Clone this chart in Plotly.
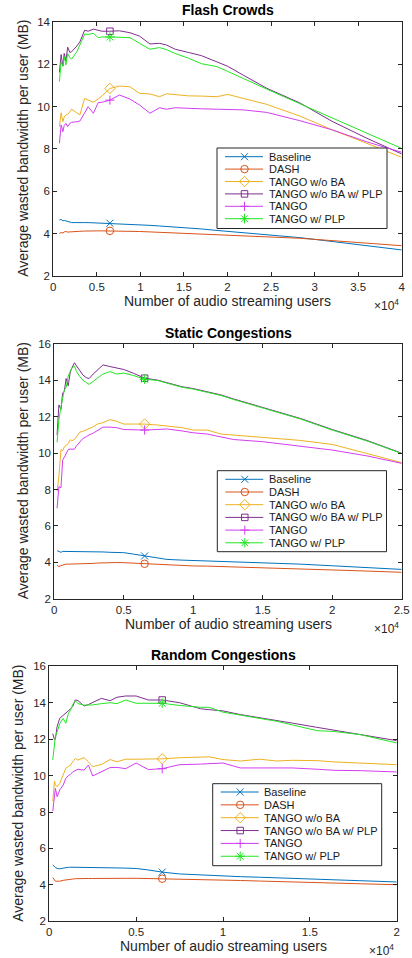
import plotly.graph_objects as go

W, H = 412, 958

# ---------------- DATA ----------------
series_names = ["Baseline", "DASH", "TANGO w/o BA", "TANGO w/o BA w/ PLP", "TANGO", "TANGO w/ PLP"]
marker_users = 6500

# Flash Crowds
flash_users = [700, 900, 1100, 1250, 1450, 1650, 1900, 2100, 2700, 3050, 3600, 4000, 4600, 5150, 5600,
               6500, 7600, 8800, 9900, 11100, 12200, 13000, 14000, 15500, 17000, 18800, 20000, 21800,
               24500, 28300, 32000, 36000, 40000]
flash_baseline = [4.64, 4.67, 4.6, 4.62, 4.6, 4.58, 4.55, 4.52, 4.52, 4.53, 4.52, 4.52, 4.51, 4.5, 4.5,
                  4.49, 4.47, 4.45, 4.42, 4.39, 4.36, 4.34, 4.31, 4.27, 4.22, 4.15, 4.11, 4.05,
                  3.96, 3.81, 3.63, 3.44, 3.23]
flash_dash = [4.01, 4.05, 4.03, 4.08, 4.1, 4.07, 4.08, 4.08, 4.1, 4.11, 4.12, 4.13, 4.13, 4.13, 4.13,
              4.13, 4.12, 4.11, 4.1, 4.08, 4.06, 4.05, 4.03, 4.0, 3.98, 3.95, 3.93, 3.9,
              3.85, 3.78, 3.67, 3.56, 3.43]
flash_wo_ba = [9.05, 9.7, 9.28, 9.5, 9.6, 9.63, 9.75, 9.87, 9.7, 9.6, 10.38, 10.3, 10.2, 10.35, 10.5,
               10.85, 10.96, 10.93, 10.62, 10.59, 10.46, 10.6, 10.55, 10.5, 10.49, 10.46, 10.57, 10.39,
               10.1, 9.55, 8.9, 8.26, 7.6]
flash_wo_ba_plp = [11.6, 12.45, 11.9, 12.5, 12.15, 12.8, 12.55, 12.58, 12.85, 13.05, 13.6, 13.55, 13.65, 13.58, 13.55,
                   13.55, 13.57, 13.48, 13.32, 12.95, 12.98, 12.9, 12.7, 12.55, 12.4, 12.1, 11.9, 11.48,
                   10.86, 10.17, 9.3, 8.5, 7.76]
flash_tango = [8.26, 9.13, 8.81, 9.1, 9.2, 9.05, 9.2, 9.25, 9.28, 9.31, 9.7, 9.99, 9.68, 10.18, 10.2,
               10.3, 10.54, 10.35, 10.07, 9.68, 9.94, 9.87, 9.94, 9.9, 9.89, 9.87, 9.86, 9.84,
               9.72, 9.33, 8.9, 8.33, 7.84]
flash_tango_plp = [11.17, 12.1, 11.9, 12.35, 11.96, 12.5, 12.3, 12.24, 12.58, 12.9, 13.42, 13.4, 13.45, 13.25, 13.28,
                   13.28, 13.27, 13.25, 12.98, 12.7, 12.78, 12.68, 12.5, 12.28, 12.02, 11.88, 11.66, 11.31,
                   10.82, 10.13, 9.46, 8.74, 8.02]

# Static Congestions
static_users = [200, 330, 480, 600, 720, 850, 1000, 1150, 1250, 1450, 1600, 1850, 2050, 2300, 2500, 2800,
                3100, 3500, 4000, 4500, 5000, 5700, 6500, 7400, 8100, 9200, 10000, 11000, 12000, 12900,
                15000, 17700, 20000, 22500, 25000]
static_baseline = [4.64, 4.58, 4.55, 4.6, 4.6, 4.6, 4.6, 4.6, 4.6, 4.6, 4.6, 4.6, 4.6, 4.59, 4.59, 4.58,
                   4.58, 4.57, 4.55, 4.54, 4.53, 4.45, 4.35, 4.22, 4.16, 4.12, 4.1, 4.07, 4.05, 4.03,
                   3.98, 3.9, 3.81, 3.72, 3.61]
static_dash = [3.85, 3.76, 3.82, 3.85, 3.88, 3.9, 3.9, 3.9, 3.9, 3.91, 3.91, 3.91, 3.91, 3.92, 3.92, 3.94,
               3.96, 3.98, 4.0, 3.99, 3.98, 3.95, 3.92, 3.88, 3.86, 3.83, 3.8, 3.79, 3.77, 3.76,
               3.72, 3.66, 3.58, 3.52, 3.45]
static_wo_ba = [7.9, 8.71, 10.2, 10.13, 10.35, 10.45, 10.52, 10.74, 10.68, 10.75, 10.9, 11.16, 11.2, 11.27, 11.35, 11.45,
                11.6, 11.68, 11.84, 11.75, 11.6, 11.6, 11.6, 11.55, 11.48, 11.4, 11.27, 11.27, 11.05, 11.0,
                10.85, 10.7, 10.48, 10.0, 9.48]
static_wo_ba_plp = [11.0, 12.65, 12.4, 13.3, 13.4, 14.1, 13.7, 14.45, 14.66, 14.97, 14.8, 14.5, 14.3, 14.15, 14.1, 14.35,
                    14.55, 14.85, 14.76, 14.68, 14.6, 14.39, 14.12, 14.02, 13.88, 13.65, 13.55, 13.37, 13.2, 12.98,
                    12.52, 11.91, 11.3, 10.7, 10.0]
static_tango = [6.97, 8.16, 8.1, 9.62, 9.77, 10.0, 10.2, 10.22, 10.22, 10.22, 10.4, 10.6, 10.8, 10.9, 11.0, 11.1,
                11.25, 11.43, 11.43, 11.4, 11.3, 11.28, 11.27, 11.3, 11.33, 11.22, 11.12, 11.05, 10.9, 10.75,
                10.63, 10.39, 10.17, 9.85, 9.44]
static_tango_plp = [10.6, 11.82, 12.55, 13.1, 13.47, 13.6, 14.24, 14.5, 14.66, 14.79, 14.48, 14.2, 14.02, 13.88, 13.78, 13.95,
                    14.12, 14.35, 14.48, 14.35, 14.4, 14.27, 14.06, 14.0, 13.85, 13.62, 13.52, 13.33, 13.17, 12.95,
                    12.5, 11.88, 11.27, 10.67, 9.98]

# Random Congestions
random_users = [200, 300, 350, 450, 600, 800, 950, 1100, 1200, 1350, 1500, 1650, 2000, 2250, 2500, 3000, 3500,
                3900, 4400, 5000, 5700, 6500, 7500, 8700, 9200, 10000, 11000, 12100, 13100, 14000, 15400,
                16400, 17900, 20000]
random_baseline = [5.1, 4.98, 4.95, 4.9, 4.88, 4.92, 4.96, 4.96, 4.97, 4.97, 4.97, 4.97, 4.97, 4.96, 4.96, 4.96, 4.95,
                   4.93, 4.92, 4.9, 4.82, 4.7, 4.6, 4.54, 4.52, 4.48, 4.45, 4.42, 4.39, 4.36, 4.31,
                   4.28, 4.23, 4.16]
random_dash = [4.4, 4.25, 4.2, 4.2, 4.2, 4.25, 4.28, 4.3, 4.3, 4.32, 4.34, 4.35, 4.35, 4.35, 4.35, 4.36, 4.36,
               4.36, 4.36, 4.36, 4.35, 4.34, 4.32, 4.29, 4.28, 4.26, 4.24, 4.21, 4.19, 4.17, 4.13,
               4.1, 4.06, 4.01]
random_wo_ba = [8.6, 9.7, 9.5, 9.39, 9.57, 10.03, 10.4, 10.5, 10.54, 10.76, 10.94, 10.85, 10.99, 10.76, 10.49, 10.61, 10.88,
                10.76, 10.9, 10.9, 10.9, 10.92, 10.98, 11.02, 11.03, 10.88, 10.8, 10.9, 10.8, 10.84, 10.82,
                10.75, 10.7, 10.6]
random_wo_ba_plp = [12.3, 11.97, 12.0, 12.69, 13.14, 13.3, 13.4, 13.56, 13.64, 13.8, 14.15, 14.12, 13.82, 13.9, 14.02, 14.24, 14.11,
                    14.3, 14.37, 14.37, 14.15, 14.15, 14.0, 13.67, 13.62, 13.55, 13.35, 13.18, 13.05, 12.88, 12.65,
                    12.5, 12.25, 11.92]
random_tango = [8.05, 9.1, 9.3, 8.84, 9.21, 9.48, 9.85, 10.0, 10.05, 10.2, 10.3, 10.35, 10.3, 10.58, 9.98, 10.21, 10.44,
                10.45, 10.38, 10.69, 10.33, 10.38, 10.6, 10.63, 10.64, 10.69, 10.42, 10.42, 10.42, 10.42, 10.35,
                10.29, 10.27, 10.2]
random_tango_plp = [10.86, 11.95, 12.15, 12.4, 12.85, 13.14, 12.87, 13.42, 13.55, 13.9, 14.11, 13.95, 13.87, 13.87, 13.88, 13.95, 14.0,
                    13.95, 14.15, 13.97, 13.97, 13.97, 13.85, 13.75, 13.75, 13.48, 13.32, 13.15, 12.98, 12.78, 12.47,
                    12.42, 12.25, 11.79]

flash_x_ticks = [0, 5000, 10000, 15000, 20000, 25000, 30000, 35000, 40000]
flash_x_labels = ["0", "0.5", "1", "1.5", "2", "2.5", "3", "3.5", "4"]
static_x_ticks = [0, 5000, 10000, 15000, 20000, 25000]
static_x_labels = ["0", "0.5", "1", "1.5", "2", "2.5"]
random_x_ticks = [0, 5000, 10000, 15000, 20000]
random_x_labels = ["0", "0.5", "1", "1.5", "2"]

# ---------------- STYLE ----------------
colors = ["#0072BD", "#D95319", "#EDB120", "#7E2F8E", "#D23CF0", "#22E622"]
symbols = ["x-thin-open", "circle-open", "diamond-open", "square-open", "cross-thin-open", "asterisk-open"]
msizes = [7, 7.5, 8, 6.5, 6.5, 8]
FONT = "Liberation Sans, Arial, Helvetica, sans-serif"
AX = "#262626"

# positions below are window pixels (left, top, right, bottom)
panels = [
    dict(title="Flash Crowds", users=flash_users,
         ys=[flash_baseline, flash_dash, flash_wo_ba, flash_wo_ba_plp, flash_tango, flash_tango_plp],
         xr=[0, 40000], yr=[2, 14], ticks=flash_x_ticks, labels=flash_x_labels,
         box=(53.3, 21.7, 401.7, 276.0), title_y=10.0, xt_y=301.5, exp_y=305.0, yt_x=23.0,
         leg=(217.0, 148.0, 387.0, 228.5, 156.7, 12.4)),
    dict(title="Static Congestions", users=static_users,
         ys=[static_baseline, static_dash, static_wo_ba, static_wo_ba_plp, static_tango, static_tango_plp],
         xr=[0, 25000], yr=[2, 16], ticks=static_x_ticks, labels=static_x_labels,
         box=(54.3, 344.0, 401.7, 598.7), title_y=333.3, xt_y=624.0, exp_y=628.0, yt_x=23.0,
         leg=(217.3, 470.7, 386.5, 551.7, 479.3, 12.7)),
    dict(title="Random Congestions", users=random_users,
         ys=[random_baseline, random_dash, random_wo_ba, random_wo_ba_plp, random_tango, random_tango_plp],
         xr=[0, 20000], yr=[2, 16], ticks=random_x_ticks, labels=random_x_labels,
         box=(49.3, 666.3, 396.7, 921.3), title_y=654.7, xt_y=946.3, exp_y=949.7, yt_x=18.0,
         leg=(212.7, 783.7, 381.7, 865.7, 792.0, 12.85)),
]


def px(x):
    return x / W


def py(y):
    return 1 - y / H


fig = go.Figure()
layout = dict(width=W, height=H, autosize=False,
              margin=dict(l=0, r=0, t=0, b=0, pad=0, autoexpand=False),
              paper_bgcolor="white", plot_bgcolor="rgba(0,0,0,0)", showlegend=False,
              hovermode=False, dragmode=False,
              font=dict(family=FONT, color=AX, size=12))
annotations = []

for i, p in enumerate(panels):
    n = "" if i == 0 else str(i + 1)
    xa, ya = "x" + n, "y" + n
    l, t, r, b = p["box"]
    users = p["users"]
    mi = users.index(marker_users)
    for k, (name, yv) in enumerate(zip(series_names, p["ys"])):
        fig.add_trace(go.Scatter(x=users, y=yv, mode="lines", name=name, xaxis=xa, yaxis=ya,
                                 line=dict(color=colors[k], width=1), hoverinfo="skip"))
    for k, (name, yv) in enumerate(zip(series_names, p["ys"])):
        fig.add_trace(go.Scatter(x=[users[mi]], y=[yv[mi]], mode="markers", name=name, xaxis=xa, yaxis=ya,
                                 marker=dict(symbol=symbols[k], size=msizes[k], color=colors[k],
                                             line=dict(color=colors[k], width=1)), hoverinfo="skip"))
    common = dict(showline=True, mirror="ticks", linecolor=AX, linewidth=1, ticks="inside", ticklen=4,
                  tickwidth=1, tickcolor=AX, showgrid=False, zeroline=False, automargin=False,
                  tickfont=dict(family=FONT, size=11.5, color=AX))
    layout["xaxis" + n] = dict(common, domain=[px(l), px(r)], range=p["xr"], anchor=ya,
                               tickmode="array", tickvals=p["ticks"], ticktext=p["labels"])
    layout["yaxis" + n] = dict(common, domain=[py(b), py(t)], range=p["yr"], anchor=xa, dtick=2, tick0=2)
    cx = (l + r) / 2
    annotations.append(dict(text="<b>" + p["title"] + "</b>", x=px(cx), y=py(p["title_y"]), xref="paper",
                            yref="paper", showarrow=False, xanchor="center", yanchor="middle",
                            font=dict(family=FONT, size=14, color="black")))
    annotations.append(dict(text="Number of audio streaming users", x=px(cx), y=py(p["xt_y"]), xref="paper",
                            yref="paper", showarrow=False, xanchor="center", yanchor="middle",
                            font=dict(family=FONT, size=14, color=AX)))
    annotations.append(dict(text="Average wasted bandwidth per user (MB)", x=px(p["yt_x"]), y=py((t + b) / 2),
                            xref="paper", yref="paper", showarrow=False, textangle=-90, xanchor="center",
                            yanchor="middle", font=dict(family=FONT, size=14, color=AX)))
    annotations.append(dict(text="\u00d710<sup>4</sup>", x=px(r - 1), y=py(p["exp_y"]), xref="paper",
                            yref="paper", showarrow=False, xanchor="right", yanchor="middle",
                            font=dict(family=FONT, size=12, color=AX)))

    # manual legend drawn on a pixel-coordinate overlay axis
    gl, gt, gr, gb, row0, dy = p["leg"]
    fig.add_trace(go.Scatter(x=[gl, gr, gr, gl, gl], y=[gt, gt, gb, gb, gt], mode="lines", fill="toself",
                             fillcolor="white", line=dict(color=AX, width=1), xaxis="x4", yaxis="y4",
                             hoverinfo="skip"))
    for k, name in enumerate(series_names):
        ry = row0 + k * dy
        fig.add_trace(go.Scatter(x=[gl + 8, gl + 46], y=[ry, ry], mode="lines", xaxis="x4", yaxis="y4",
                                 line=dict(color=colors[k], width=1), hoverinfo="skip"))
        fig.add_trace(go.Scatter(x=[gl + 27.5], y=[ry], mode="markers", xaxis="x4", yaxis="y4",
                                 marker=dict(symbol=symbols[k], size=msizes[k], color=colors[k],
                                             line=dict(color=colors[k], width=1)), hoverinfo="skip"))
        annotations.append(dict(text=name, x=px(gl + 49.5), y=py(ry), xref="paper", yref="paper",
                                showarrow=False, xanchor="left", yanchor="middle",
                                font=dict(family=FONT, size=11, color="#1a1a1a")))

layout["xaxis4"] = dict(domain=[0, 1], range=[0, W], visible=False, anchor="y4", fixedrange=True,
                        automargin=False)
layout["yaxis4"] = dict(domain=[0, 1], range=[H, 0], visible=False, anchor="x4", fixedrange=True,
                        automargin=False)
layout["annotations"] = annotations
fig.update_layout(**layout)
# the page body's default 8px margin would push the figure off the window; remove it
fig.write_html("out.html", config={"displayModeBar": False, "staticPlot": True},
               post_script="document.body.style.margin='0px';")
